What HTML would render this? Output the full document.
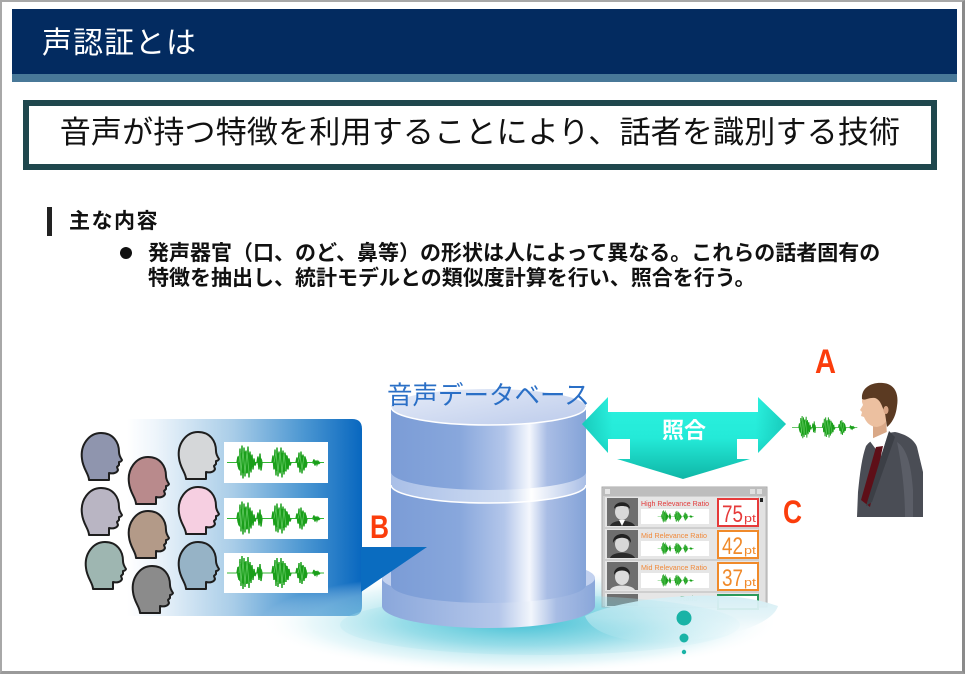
<!DOCTYPE html>
<html><head><meta charset="utf-8">
<style>
html,body{margin:0;padding:0;}
body{width:965px;height:674px;position:relative;overflow:hidden;background:#fff;font-family:"Liberation Sans","Noto Sans CJK JP",sans-serif;}
.frame{position:absolute;left:0;top:0;width:965px;height:674px;box-sizing:border-box;border-style:solid;border-color:#a8a8a8 #8a8a8a #9a9a9a #a8a8a8;border-width:2px 3px 3px 2px;}
.hdr{position:absolute;left:12px;top:9px;width:945px;height:65px;background:#032b60;}
.strip{position:absolute;left:12px;top:74px;width:945px;height:8px;background:#487898;}
.ttl{position:absolute;left:42px;top:29px;font-size:30px;line-height:30px;color:#fff;letter-spacing:1px;white-space:nowrap;}
.box{position:absolute;left:23px;top:100px;width:914px;height:70px;box-sizing:border-box;border:6px solid #1f474d;background:#fff;}
.boxt{position:absolute;left:23px;top:117px;width:914px;text-align:center;font-size:31px;line-height:31px;color:#111;letter-spacing:0.2px;white-space:nowrap;}
.bar{position:absolute;left:47px;top:207px;width:5px;height:29px;background:#222;}
.sec{position:absolute;left:69px;top:211px;font-size:21px;line-height:21px;font-weight:bold;color:#111;letter-spacing:1.5px;white-space:nowrap;}
.dot{position:absolute;left:120px;top:247px;width:12px;height:12px;border-radius:50%;background:#111;}
.bl{position:absolute;left:148px;font-size:21px;line-height:21px;font-weight:bold;color:#111;white-space:nowrap;}
.db{position:absolute;left:387px;top:384px;font-size:25.5px;line-height:25.5px;color:#2a6fc6;white-space:nowrap;}
.sho{position:absolute;left:662px;top:420px;font-size:22px;line-height:22px;color:#fff;font-weight:bold;white-space:nowrap;}
svg{position:absolute;left:0;top:0;}
</style></head><body>
<div class="frame"></div>
<div class="hdr"></div>
<div class="strip"></div>
<div class="ttl">声認証とは</div>
<div class="box"></div>
<div class="boxt">音声が持つ特徴を利用することにより、話者を識別する技術</div>
<div class="bar"></div>
<div class="sec">主な内容</div>
<div class="dot"></div>
<div class="bl" style="top:243px;">発声器官（口、のど、鼻等）の形状は人によって異なる。これらの話者固有の</div>
<div class="bl" style="top:268px;">特徴を抽出し、統計モデルとの類似度計算を行い、照合を行う。</div>

<svg width="965" height="674" viewBox="0 0 965 674">
<defs>
<linearGradient id="cal" x1="127" y1="0" x2="362" y2="0" gradientUnits="userSpaceOnUse">
<stop offset="0" stop-color="#ffffff"/>
<stop offset="0.12" stop-color="#eef5fb"/>
<stop offset="0.45" stop-color="#a9cde8"/>
<stop offset="0.75" stop-color="#4c97d2"/>
<stop offset="1" stop-color="#0867bf"/>
</linearGradient>
<linearGradient id="body" x1="391" y1="0" x2="586" y2="0" gradientUnits="userSpaceOnUse">
<stop offset="0" stop-color="#7b9cd6"/>
<stop offset="0.35" stop-color="#88a7dc"/>
<stop offset="0.58" stop-color="#b3c6ea"/>
<stop offset="0.71" stop-color="#f4f7fd"/>
<stop offset="0.8" stop-color="#a9bde5"/>
<stop offset="1" stop-color="#84a3d8"/>
</linearGradient>
<linearGradient id="base" x1="382" y1="0" x2="595" y2="0" gradientUnits="userSpaceOnUse">
<stop offset="0" stop-color="#8aa7db"/>
<stop offset="0.55" stop-color="#b5c7ea"/>
<stop offset="0.7" stop-color="#f2f6fc"/>
<stop offset="0.82" stop-color="#a7bce4"/>
<stop offset="1" stop-color="#8aa7da"/>
</linearGradient>
<linearGradient id="band" x1="391" y1="0" x2="586" y2="0" gradientUnits="userSpaceOnUse">
<stop offset="0" stop-color="#a9bfe7"/>
<stop offset="0.6" stop-color="#cfdcf2"/>
<stop offset="0.72" stop-color="#ffffff"/>
<stop offset="1" stop-color="#a9bee6"/>
</linearGradient>
<linearGradient id="top" x1="0" y1="0" x2="1" y2="1">
<stop offset="0" stop-color="#e6ecf8"/>
<stop offset="1" stop-color="#bccbeb"/>
</linearGradient>
<radialGradient id="glow" cx="520" cy="622" r="260" gradientUnits="userSpaceOnUse" gradientTransform="translate(520 622) scale(1 0.2) translate(-520 -622)">
<stop offset="0" stop-color="#3fbfd3" stop-opacity="0.95"/>
<stop offset="0.45" stop-color="#84d6e4" stop-opacity="0.75"/>
<stop offset="0.8" stop-color="#c6ecf3" stop-opacity="0.4"/>
<stop offset="1" stop-color="#ffffff" stop-opacity="0"/>
</radialGradient>
<linearGradient id="arr" x1="0" y1="397" x2="0" y2="479" gradientUnits="userSpaceOnUse">
<stop offset="0" stop-color="#2cf2e0"/>
<stop offset="0.5" stop-color="#24ead8"/>
<stop offset="1" stop-color="#0fb6a6"/>
</linearGradient>
<linearGradient id="arrh" x1="582" y1="0" x2="786" y2="0" gradientUnits="userSpaceOnUse">
<stop offset="0" stop-color="#0aa89c" stop-opacity="0.5"/>
<stop offset="0.15" stop-color="#0aa89c" stop-opacity="0"/>
<stop offset="0.85" stop-color="#0aa89c" stop-opacity="0"/>
<stop offset="1" stop-color="#0aa89c" stop-opacity="0.5"/>
</linearGradient>
<linearGradient id="wave2" x1="0" y1="594" x2="0" y2="642" gradientUnits="userSpaceOnUse">
<stop offset="0" stop-color="#d2edf4"/>
<stop offset="0.5" stop-color="#e4f4f8" stop-opacity="0.9"/>
<stop offset="1" stop-color="#ffffff" stop-opacity="0"/>
</linearGradient>
<symbol id="wv" viewBox="0 0 104 40">
<line x1="3" y1="20" x2="100" y2="20" stroke="#33b533" stroke-width="1"/>
<ellipse cx="21" cy="20" rx="8" ry="11" fill="#22a622"/>
<ellipse cx="36" cy="20" rx="2.5" ry="5" fill="#22a622"/>
<ellipse cx="57" cy="20" rx="8" ry="10" fill="#22a622"/>
<ellipse cx="78" cy="20" rx="5" ry="7" fill="#22a622"/>
<ellipse cx="92" cy="20" rx="4" ry="2" fill="#3cbc3c"/>
<path d="M13,20 L14,14 L15,27 L16,6 L17,33 L18,3 L19,36 L20,5 L21,34 L22,8 L23,31 L24,4 L25,35 L26,9 L27,30 L28,12 L29,27 L30,16 L31,23 L32,20 M33,20 L34,14 L35,27 L36,11 L37,28 L38,20 M48,20 L49,13 L50,27 L51,7 L52,33 L53,5 L54,34 L55,9 L56,31 L57,5 L58,35 L59,8 L60,32 L61,10 L62,29 L63,13 L64,27 L65,16 L66,23 L67,20 M72,20 L73,15 L74,25 L75,10 L76,30 L77,9 L78,31 L79,12 L80,28 L81,14 L82,25 L83,20 M89,20 L90,17 L91,23 L92,18 L93,22 L94,19 L95,21 L96,20" fill="none" stroke="#1a9e1a" stroke-width="1.4"/>
<path d="M15,20 L16,10 L17,30 L19,8 L21,31 L23,9 L25,30 M50,20 L52,10 L54,30 L56,9 L58,31 L60,11 L62,28 M74,20 L76,13 L78,27 L80,14" fill="none" stroke="#7fdc7f" stroke-width="0.8" opacity="0.7"/>
</symbol>
<path id="hd" d="M9,48 C9,42 3,37 2,27 C0,13 9,1 21,1 C33,1 39,10 39,20 C39,23 40,25 42,28 C42,29 40,30 39,30 L39,33 L37,35 L38,38 C37,41 33,42 29,41 L29,48 Z"/>
</defs>

<!-- callout panel -->
<path d="M127,419 L352,419 Q362,419 362,429 L362,606 Q362,616 352,616 L127,616 Z" fill="url(#cal)"/>

<!-- heads -->
<g stroke="#1e1e1e" stroke-width="2" stroke-linejoin="round">
<use href="#hd" transform="translate(80,432)" fill="#8f95ae"/>
<use href="#hd" transform="translate(80,487)" fill="#b9b5c3"/>
<use href="#hd" transform="translate(84,541)" fill="#9eb6b1"/>
<use href="#hd" transform="translate(127,456)" fill="#b98a8c"/>
<use href="#hd" transform="translate(127,510)" fill="#b39a88"/>
<use href="#hd" transform="translate(131,565)" fill="#8b8b8b"/>
<use href="#hd" transform="translate(177,431)" fill="#d5d7d9"/>
<use href="#hd" transform="translate(177,486)" fill="#f6cfe1"/>
<use href="#hd" transform="translate(177,541)" fill="#96b3c6"/>
</g>

<!-- waveform boxes -->
<rect x="224" y="442" width="104" height="41" fill="#fff"/>
<rect x="224" y="498" width="104" height="41" fill="#fff"/>
<rect x="224" y="553" width="104" height="40" fill="#fff"/>
<use href="#wv" x="224" y="442" width="104" height="41"/>
<use href="#wv" x="224" y="498" width="104" height="41"/>
<use href="#wv" x="224" y="553" width="104" height="40"/>

<!-- glow -->
<ellipse cx="520" cy="622" rx="270" ry="55" fill="url(#glow)"/>

<!-- results panel -->
<g>
<rect x="602" y="487" width="165" height="120" fill="#cfcfcf" stroke="#a9a9a9" stroke-width="1"/>
<rect x="603" y="488" width="163" height="8" fill="#bdbdbd"/>
<rect x="605" y="489" width="5" height="5" fill="#e6e6e6"/>
<rect x="750" y="489" width="5" height="5" fill="#e0e0e0"/>
<rect x="757" y="489" width="5" height="5" fill="#e0e0e0"/>
<rect x="759" y="497" width="6" height="105" fill="#e2e2e2"/>
<rect x="760" y="498" width="3" height="4" fill="#222"/>

<g>
<rect x="605" y="497" width="153" height="30" fill="#e6e6e6"/>
<rect x="607" y="498" width="31" height="28" fill="#6e6e6e"/>
<ellipse cx="622" cy="512" rx="7" ry="8" fill="#d8d8d8"/>
<path d="M614,509 C614,500 630,500 630,509 C628,505 616,505 614,509 Z" fill="#222"/>
<path d="M610,526 C612,519 632,519 635,526 Z" fill="#2a2a2a"/>
<path d="M619,520 L625,520 L622,526 Z" fill="#fff"/>
<text x="641" y="506" font-size="7.5" fill="#e23a3a" font-family="Liberation Sans, sans-serif" textLength="68" lengthAdjust="spacingAndGlyphs">High Relevance Ratio</text>
<rect x="641" y="509" width="68" height="15" fill="#fff"/>
<use href="#wv" x="645" y="509" width="62" height="15"/>
<rect x="718" y="499" width="40" height="27" fill="#fff" stroke="#e63a3a" stroke-width="2"/>
<text x="722" y="522" font-size="24" fill="#e63a3a" font-family="Liberation Sans, sans-serif" textLength="21" lengthAdjust="spacingAndGlyphs">75</text>
<text x="744" y="522" font-size="11" fill="#e63a3a" font-family="Liberation Sans, sans-serif" textLength="12" lengthAdjust="spacingAndGlyphs">pt</text>
</g>

<g>
<rect x="605" y="529" width="153" height="30" fill="#e6e6e6"/>
<rect x="607" y="530" width="31" height="28" fill="#6e6e6e"/>
<ellipse cx="622" cy="544" rx="7" ry="8" fill="#d8d8d8"/>
<path d="M613,543 C612,531 632,531 631,543 C628,536 616,536 613,543 Z" fill="#222"/>
<path d="M610,558 C612,551 632,551 635,558 Z" fill="#2a2a2a"/>
<text x="641" y="538" font-size="7.5" fill="#f0893a" font-family="Liberation Sans, sans-serif" textLength="66" lengthAdjust="spacingAndGlyphs">Mid Relevance Ratio</text>
<rect x="641" y="541" width="68" height="15" fill="#fff"/>
<use href="#wv" x="645" y="541" width="62" height="15"/>
<rect x="718" y="531" width="40" height="27" fill="#fff" stroke="#f08a2a" stroke-width="2"/>
<text x="722" y="554" font-size="24" fill="#f08a2a" font-family="Liberation Sans, sans-serif" textLength="21" lengthAdjust="spacingAndGlyphs">42</text>
<text x="744" y="554" font-size="11" fill="#f08a2a" font-family="Liberation Sans, sans-serif" textLength="12" lengthAdjust="spacingAndGlyphs">pt</text>
</g>

<g>
<rect x="605" y="561" width="153" height="30" fill="#e6e6e6"/>
<rect x="607" y="562" width="31" height="28" fill="#6e6e6e"/>
<ellipse cx="622" cy="577" rx="7" ry="8" fill="#dcdcdc"/>
<path d="M614,575 C613,564 631,564 630,575 C627,569 617,569 614,575 Z" fill="#222"/>
<path d="M610,590 C612,584 632,584 635,590 Z" fill="#e0e0e0"/>
<text x="641" y="570" font-size="7.5" fill="#f0893a" font-family="Liberation Sans, sans-serif" textLength="66" lengthAdjust="spacingAndGlyphs">Mid Relevance Ratio</text>
<rect x="641" y="573" width="68" height="15" fill="#fff"/>
<use href="#wv" x="645" y="573" width="62" height="15"/>
<rect x="718" y="563" width="40" height="27" fill="#fff" stroke="#f08a2a" stroke-width="2"/>
<text x="722" y="586" font-size="24" fill="#f08a2a" font-family="Liberation Sans, sans-serif" textLength="21" lengthAdjust="spacingAndGlyphs">37</text>
<text x="744" y="586" font-size="11" fill="#f08a2a" font-family="Liberation Sans, sans-serif" textLength="12" lengthAdjust="spacingAndGlyphs">pt</text>
</g>

<g>
<rect x="605" y="593" width="153" height="14" fill="#e6e6e6"/>
<rect x="607" y="594" width="31" height="12" fill="#6e6e6e"/>
<text x="680" y="601" font-size="7.5" fill="#4aa060" font-family="Liberation Sans, sans-serif">Ratio</text>
<rect x="718" y="595" width="40" height="14" fill="#fff" stroke="#2a9a5a" stroke-width="2"/>
</g>
</g>
<!-- wave covering panel bottom -->
<path d="M585,616 C620,600 680,594 720,596 C745,597 760,600 778,606 C772,626 720,642 650,642 C612,640 590,630 585,616 Z" fill="url(#wave2)"/>
<ellipse cx="540" cy="625" rx="200" ry="30" fill="url(#glow)" opacity="0.55"/>

<!-- cylinder -->
<path d="M382,578 L382,606 A106.5,22 0 0 0 595,606 L595,578 Z" fill="url(#base)"/>
<ellipse cx="488.5" cy="578" rx="106.5" ry="20" fill="#c2d1ef"/>
<path d="M391,485 L391,585 A97.5,18 0 0 0 586,585 L586,485 Z" fill="url(#body)"/>
<path d="M391,472 L391,485 A97.5,18 0 0 0 586,485 L586,472 Z" fill="url(#band)"/>
<path d="M391,485 A97.5,18 0 0 0 586,485" fill="none" stroke="#ffffff" stroke-width="1.5"/>
<path d="M391,407 L391,472 A97.5,18 0 0 0 586,472 L586,407 Z" fill="url(#body)"/>
<ellipse cx="488.5" cy="407" rx="97.5" ry="18" fill="url(#top)"/>
<path d="M391,407 A97.5,18 0 0 0 586,407" fill="none" stroke="#ffffff" stroke-width="1.5"/>

<!-- callout pointer (in front of cylinder) -->
<path d="M361,547 L427,547 L361,592 Z" fill="#0a6cc0"/>

<!-- double arrow -->
<path d="M582,424 L608,397 L608,412 L758,412 L758,397 L786,424 L758,453 L758,439 L737,439 L737,459 L750,459 L683,479 L617,459 L630,459 L630,439 L608,439 L608,453 Z" fill="url(#arr)"/>
<path d="M582,424 L608,397 L608,412 L758,412 L758,397 L786,424 L758,453 L758,439 L737,439 L737,459 L750,459 L683,479 L617,459 L630,459 L630,439 L608,439 L608,453 Z" fill="url(#arrh)"/>

<!-- dots -->
<circle cx="684" cy="618" r="7.5" fill="#19b3a6"/>
<circle cx="684" cy="638" r="4.5" fill="#19b3a6"/>
<circle cx="684" cy="652" r="2.2" fill="#19b3a6"/>

<!-- speaker waveform -->
<use href="#wv" x="790" y="414" width="70" height="27"/>

<!-- man -->
<g>
<path d="M866,446 C872,438 885,433 895,432 C905,434 914,439 917,447 L923,472 L923,517 L857,517 L858,492 C860,472 862,457 866,446 Z" fill="#4a4d55"/>
<path d="M897,442 C906,448 911,462 913,490 L913,517 L905,517 C905,492 902,466 897,442 Z" fill="#5b5e67"/>
<path d="M873,418 L886,418 L887,436 L873,440 Z" fill="#d9a887"/>
<path d="M869,440 L889,431 L881,456 Z" fill="#ffffff"/>
<path d="M876,447 L883,446 L870,507 L861,500 Z" fill="#5e0f18"/>
<path d="M889,431 L895,437 L872,502 L866,506 Z" fill="#3c3f46"/>
<path d="M862,402 C862,392 870,388 878,388 C887,388 892,396 891,407 C890,418 885,426 877,427 C870,427 866,422 864,417 L861,416 L862,412 L860,410 L863,405 Z" fill="#ecc0a0"/>
<path d="M862,399 C861,388 871,382 883,383 C895,384 899,394 897,406 C896,416 892,423 887,427 L885,413 C882,407 881,400 875,398 C869,397 865,401 862,399 Z" fill="#5b3a22"/>
<ellipse cx="886" cy="410" rx="2.5" ry="4" fill="#d9a585"/>
</g>

<!-- letters -->
<text x="815" y="373" font-size="34" font-weight="bold" fill="#fb3d0c" font-family="Liberation Sans, sans-serif" textLength="21" lengthAdjust="spacingAndGlyphs">A</text>
<text x="370" y="538" font-size="32" font-weight="bold" fill="#fb3d0c" font-family="Liberation Sans, sans-serif" textLength="19" lengthAdjust="spacingAndGlyphs">B</text>
<text x="783" y="523" font-size="32" font-weight="bold" fill="#fb3d0c" font-family="Liberation Sans, sans-serif" textLength="19" lengthAdjust="spacingAndGlyphs">C</text>
</svg>

<div class="db">音声データベース</div>
<div class="sho">照合</div>
</body></html>
